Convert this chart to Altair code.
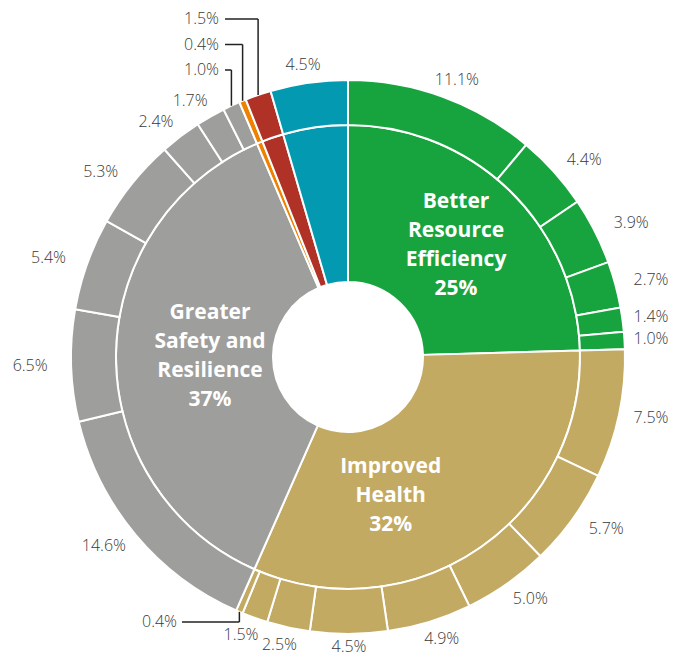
import altair as alt
import pandas as pd

# ---------------- data ----------------
groups = ["Better Resource Efficiency", "Improved Health",
          "Greater Safety and Resilience", "Other A", "Other B", "Other C"]
group_colors = ["#17a43e", "#c3aa62", "#9e9e9c", "#ee8200", "#b03226", "#0399b0"]
inner_names = ["Better\nResource\nEfficiency", "Improved\nHealth",
               "Greater\nSafety and\nResilience", "", "", ""]
inner_pct = [25, 32, 37, None, None, None]

outer_group = [0] * 6 + [1] * 8 + [2] * 7 + [3, 4, 5]
outer_values = [11.1, 4.4, 3.9, 2.7, 1.4, 1.0,
                7.5, 5.7, 5.0, 4.9, 4.5, 2.5, 1.5, 0.4,
                14.6, 6.5, 5.4, 5.3, 2.4, 1.7, 1.0,
                0.4, 1.5, 4.5]
# call-out labels (0 = plain label, >0 stacked at top, -1 at bottom)
callout = [0] * 13 + [-1] + [0] * 6 + [1, 2, 3, 0]

outer = pd.DataFrame({
    "order": range(len(outer_values)),
    "gi": outer_group,
    "group": [groups[g] for g in outer_group],
    "value": outer_values,
    "callout": callout,
})
inner = outer.groupby("gi", as_index=False).agg(value=("value", "sum"), order=("order", "min"))
inner["group"] = [groups[g] for g in inner["gi"]]
inner["label"] = [n + ("\n%d%%" % p if p is not None else "") for n, p in zip(inner_names, inner_pct)]

# ---------------- geometry / style ----------------
W, H = 662, 650
CX, CY = 340, 349
R0, R1, R2 = 75, 232, 277
TXT = "#3a3a3a"
FONT = "Open Sans"
LH = 29

color = alt.Color("group:N", scale=alt.Scale(domain=groups, range=group_colors), legend=None)


def angles(ch):
    return (ch.transform_window(cum="sum(value)", sort=[alt.SortField("order")], frame=[None, 0])
            .transform_joinaggregate(total="sum(value)")
            .transform_calculate(t0="(datum.cum - datum.value) / datum.total * 2 * PI",
                                 t1="datum.cum / datum.total * 2 * PI")
            .transform_calculate(tm="(datum.t0 + datum.t1) / 2"))


def px(field):
    return alt.X(field, scale=None, axis=None)


def py(field):
    return alt.Y(field, scale=None, axis=None)


inner_arcs = angles(alt.Chart(inner)).mark_arc(
    innerRadius=R0, outerRadius=R1, stroke="white", strokeWidth=2
).encode(theta=alt.Theta("t0:Q", scale=None), theta2=alt.Theta2("t1:Q"),
         color=color, x=alt.value(CX), y=alt.value(CY))

outer_arcs = angles(alt.Chart(outer)).mark_arc(
    innerRadius=R1, outerRadius=R2, stroke="white", strokeWidth=2
).encode(theta=alt.Theta("t0:Q", scale=None), theta2=alt.Theta2("t1:Q"),
         color=color, x=alt.value(CX), y=alt.value(CY))

outer_base = angles(alt.Chart(outer)).transform_calculate(
    lab="format(datum.value, '.1f') + '%'")

outer_labels = outer_base.transform_filter("datum.callout == 0").transform_calculate(
    px=f"min({CX} + 318 * sin(datum.tm), {W - 19})",
    py=f"min({CY} - 295 * cos(datum.tm), {H - 11})"
).mark_text(font=FONT, fontSize=16, fontWeight=300, color=TXT,
            align="center", baseline="middle").encode(
    x=px("px:Q"), y=py("py:Q"), text="lab:N")

co = outer_base.transform_filter("datum.callout != 0").transform_calculate(
    ly=f"datum.callout > 0 ? {CY} - 261.5 - 25.5 * datum.callout : {CY} + 265",
    tx=f"datum.callout > 0 ? {CX} - 129 : {CX} - 171",
    hx=f"datum.callout > 0 ? {CX} - 123 : {CX} - 166",
    vx=f"{CX} + {R2} * sin(datum.tm)",
    vy=f"{CY} - {R2} * cos(datum.tm)",
)
co_text = co.mark_text(font=FONT, fontSize=16, fontWeight=300, color=TXT,
                       align="right", baseline="middle").encode(
    x=px("tx:Q"), y=py("ly:Q"), text="lab:N")
co_h = co.mark_rule(color="#222222", strokeWidth=1.5).encode(
    x=px("hx:Q"), x2=alt.X2("vx:Q"), y=py("ly:Q"))
co_v = co.mark_rule(color="#222222", strokeWidth=1.5).encode(
    x=px("vx:Q"), y=py("vy:Q"), y2=alt.Y2("ly:Q"))

# (group, radius, dx, number of lines)
inner_styles = [(0, 155, 0, 4), (1, 150, -41, 3), (2, 138, 0, 4)]
inner_extra_dy = {1: 15}
inner_label_layers = []
for gi, r, ddx, nl in inner_styles:
    ddy = inner_extra_dy.get(gi, 0) - (nl - 1) * LH / 2
    inner_label_layers.append(
        angles(alt.Chart(inner)).transform_filter(f"datum.gi == {gi}").transform_calculate(
            px=f"{CX} + {r} * sin(datum.tm)", py=f"{CY} - {r} * cos(datum.tm)"
        ).mark_text(font=FONT, fontSize=21, fontWeight="bold", color="white",
                    align="center", baseline="middle", lineBreak="\n",
                    lineHeight=LH, dx=ddx, dy=ddy).encode(
            x=px("px:Q"), y=py("py:Q"), text="label:N")
    )

chart = alt.layer(
    inner_arcs, outer_arcs, outer_labels, co_h, co_v, co_text, *inner_label_layers
).properties(
    width=W, height=H, padding=0, autosize=alt.AutoSizeParams(type="none")
).configure_view(stroke=None)

chart.save("out.html", embed_options={"renderer": "svg", "actions": False})
